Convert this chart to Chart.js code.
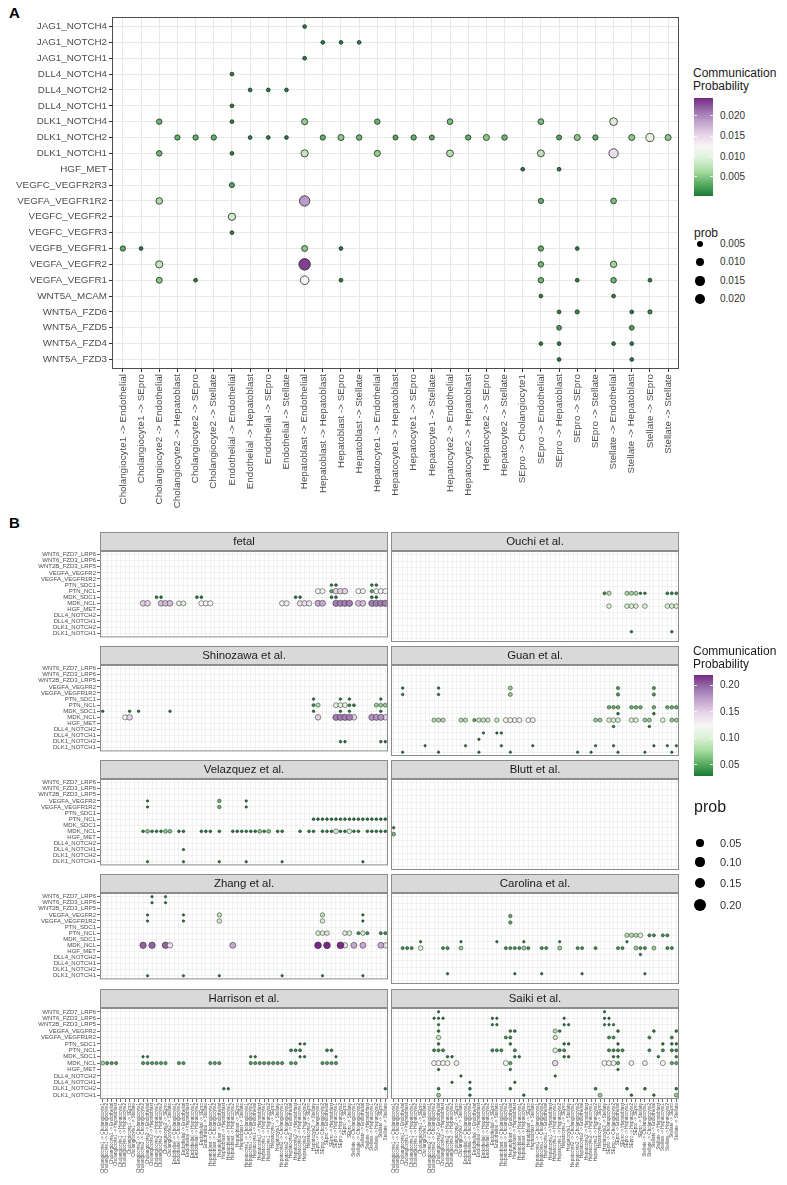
<!DOCTYPE html>
<html>
<head>
<meta charset="utf-8">
<script src="https://cdn.jsdelivr.net/npm/chart.js@4.4.1/dist/chart.umd.min.js"></script>
<style>
  body { margin: 0; background: #fff; font-family: "Liberation Sans", Arial, sans-serif; }
  #page { position: relative; width: 787px; height: 1185px; overflow: hidden; background: #fff; }
  canvas { position: absolute; }
  .t { position: absolute; white-space: nowrap; color: #1a1a1a; line-height: 1; }
  .tag { font-weight: bold; font-size: 15px; color: #000; }
  .bar { position: absolute; width: 19px; }
  .tick { position: absolute; width: 3px; height: 1px; background: rgba(255,255,255,0.8); }
  .key { position: absolute; border-radius: 50%; background: #000; }
</style>
</head>
<body>
<div id="page">
  <div class="t tag" style="left:9px;top:5px">A</div>
  <div class="t tag" style="left:9px;top:515px">B</div>
  <canvas id="chartA" width="690" height="525" style="left:0;top:0"></canvas>
</div>
<script>
// ---- panel A data ----
const cellsA = [
  'Cholangiocyte1 -> Endothelial', 'Cholangiocyte1 -> SEpro', 'Cholangiocyte2 -> Endothelial',
  'Cholangiocyte2 -> Hepatoblast', 'Cholangiocyte2 -> SEpro', 'Cholangiocyte2 -> Stellate',
  'Endothelial -> Endothelial', 'Endothelial -> Hepatoblast', 'Endothelial -> SEpro', 'Endothelial -> Stellate',
  'Hepatoblast -> Endothelial', 'Hepatoblast -> Hepatoblast', 'Hepatoblast -> SEpro', 'Hepatoblast -> Stellate',
  'Hepatocyte1 -> Endothelial', 'Hepatocyte1 -> Hepatoblast', 'Hepatocyte1 -> SEpro', 'Hepatocyte1 -> Stellate',
  'Hepatocyte2 -> Endothelial', 'Hepatocyte2 -> Hepatoblast', 'Hepatocyte2 -> SEpro', 'Hepatocyte2 -> Stellate',
  'SEpro -> Cholangiocyte1', 'SEpro -> Endothelial', 'SEpro -> Hepatoblast', 'SEpro -> SEpro', 'SEpro -> Stellate',
  'Stellate -> Endothelial', 'Stellate -> Hepatoblast', 'Stellate -> SEpro', 'Stellate -> Stellate'
];
const pairsA = [
  'JAG1_NOTCH4', 'JAG1_NOTCH2', 'JAG1_NOTCH1', 'DLL4_NOTCH4', 'DLL4_NOTCH2', 'DLL4_NOTCH1',
  'DLK1_NOTCH4', 'DLK1_NOTCH2', 'DLK1_NOTCH1', 'HGF_MET', 'VEGFC_VEGFR2R3', 'VEGFA_VEGFR1R2',
  'VEGFC_VEGFR2', 'VEGFC_VEGFR3', 'VEGFB_VEGFR1', 'VEGFA_VEGFR2', 'VEGFA_VEGFR1', 'WNT5A_MCAM',
  'WNT5A_FZD6', 'WNT5A_FZD5', 'WNT5A_FZD4', 'WNT5A_FZD3'
];
// [pair, column indexes, probability]
const dotsA = [
  ['JAG1_NOTCH4', [10], .0008],
  ['JAG1_NOTCH2', [11, 12, 13], .0008],
  ['JAG1_NOTCH1', [10], .0008],
  ['DLL4_NOTCH4', [6], .0008],
  ['DLL4_NOTCH2', [7, 8, 9], .0008],
  ['DLL4_NOTCH1', [6], .0008],
  ['DLK1_NOTCH4', [6], .0008], ['DLK1_NOTCH4', [2, 14], .0038], ['DLK1_NOTCH4', [18, 23], .0045],
  ['DLK1_NOTCH4', [10], .0055], ['DLK1_NOTCH4', [27], .0095],
  ['DLK1_NOTCH2', [7, 8, 9], .0008], ['DLK1_NOTCH2', [3, 4, 5, 11, 16, 19, 26], .0035],
  ['DLK1_NOTCH2', [15, 17, 24], .003], ['DLK1_NOTCH2', [13, 21], .004],
  ['DLK1_NOTCH2', [12, 20, 25, 28, 30], .0052], ['DLK1_NOTCH2', [29], .0105],
  ['DLK1_NOTCH1', [6], .0008], ['DLK1_NOTCH1', [2], .004], ['DLK1_NOTCH1', [14], .0055],
  ['DLK1_NOTCH1', [18], .007], ['DLK1_NOTCH1', [23], .0075], ['DLK1_NOTCH1', [10], .008],
  ['DLK1_NOTCH1', [27], .0145],
  ['HGF_MET', [22, 24], .0008],
  ['VEGFC_VEGFR2R3', [6], .003],
  ['VEGFA_VEGFR1R2', [23], .0035], ['VEGFA_VEGFR1R2', [27], .0045], ['VEGFA_VEGFR1R2', [2], .0065],
  ['VEGFA_VEGFR1R2', [10], .019],
  ['VEGFC_VEGFR2', [6], .0085],
  ['VEGFC_VEGFR3', [6], .0008],
  ['VEGFB_VEGFR1', [1, 12, 25], .0008], ['VEGFB_VEGFR1', [0, 23], .0035], ['VEGFB_VEGFR1', [10], .005],
  ['VEGFA_VEGFR2', [23], .004], ['VEGFA_VEGFR2', [27], .006], ['VEGFA_VEGFR2', [2], .008],
  ['VEGFA_VEGFR2', [10], .0235],
  ['VEGFA_VEGFR1', [4, 12, 25, 29], .0008], ['VEGFA_VEGFR1', [23, 27], .004],
  ['VEGFA_VEGFR1', [2], .005], ['VEGFA_VEGFR1', [10], .0125],
  ['WNT5A_MCAM', [23, 27], .0008],
  ['WNT5A_FZD6', [24, 28], .0008], ['WNT5A_FZD6', [25, 29], .0015],
  ['WNT5A_FZD5', [24, 28], .0025],
  ['WNT5A_FZD4', [23, 24, 27, 28], .0008],
  ['WNT5A_FZD3', [24, 28], .0008]
];
const colorTicksA = [0.005, 0.010, 0.015, 0.020];
const sizeTicksA = [0.005, 0.010, 0.015, 0.020];

// ---- panel B data ----
const cellTypes = ['Cholangiocyte1', 'Cholangiocyte2', 'Endothelial', 'Hepatoblast',
  'Hepatocyte1', 'Hepatocyte2', 'SEpro', 'Stellate'];
const cellsB = cellTypes.flatMap(s => cellTypes.map(t => s + ' -> ' + t));
const pairsB = [
  'WNT6_FZD7_LRP6', 'WNT6_FZD3_LRP6', 'WNT2B_FZD3_LRP5', 'VEGFA_VEGFR2', 'VEGFA_VEGFR1R2',
  'PTN_SDC1', 'PTN_NCL', 'MDK_SDC1', 'MDK_NCL', 'HGF_MET', 'DLL4_NOTCH2', 'DLL4_NOTCH1',
  'DLK1_NOTCH2', 'DLK1_NOTCH1'
];
const fetalDots = [
  ['PTN_SDC1', [51, 52, 60, 61], .03],
  ['PTN_NCL', [48, 49], .12], ['PTN_NCL', [51, 60], .05], ['PTN_NCL', [52, 53, 54], .15],
  ['PTN_NCL', [57, 58], .12], ['PTN_NCL', [61, 62, 63], .125],
  ['MDK_SDC1', [12, 13, 21, 22, 43, 44, 51, 52, 60, 61], .03],
  ['MDK_NCL', [9, 10], .15], ['MDK_NCL', [13, 14, 15], .16], ['MDK_NCL', [17, 18], .11],
  ['MDK_NCL', [22, 23, 24], .125], ['MDK_NCL', [40, 41], .13], ['MDK_NCL', [44, 45, 46], .14],
  ['MDK_NCL', [48, 49], .17], ['MDK_NCL', [52, 53, 54, 55], .19], ['MDK_NCL', [57, 58], .16],
  ['MDK_NCL', [60, 61, 62, 63], .19]
];
const ouchiDots = [
  ['PTN_NCL', [47], .04], ['PTN_NCL', [48], .08], ['PTN_NCL', [52, 53, 54], .075],
  ['PTN_NCL', [55, 56], .025], ['PTN_NCL', [61, 62, 63], .035],
  ['MDK_NCL', [48, 52, 53, 54, 56, 61, 62, 63], .1],
  ['DLK1_NOTCH2', [53, 62], .025]
];
const shinozawaDots = [
  ['PTN_SDC1', [47, 53, 55, 62], .025],
  ['PTN_NCL', [47], .04], ['PTN_NCL', [48], .08], ['PTN_NCL', [52, 53, 54], .11],
  ['PTN_NCL', [55, 56], .035], ['PTN_NCL', [61, 62, 63], .07],
  ['MDK_SDC1', [0, 6, 8, 15, 47, 53, 55, 62], .025],
  ['MDK_NCL', [5], .12], ['MDK_NCL', [6, 48, 56, 63], .15], ['MDK_NCL', [52, 53, 54, 55], .19],
  ['MDK_NCL', [60, 61, 62], .18],
  ['DLK1_NOTCH2', [53, 54, 62, 63], .025]
];
const guanDots = [
  ['VEGFA_VEGFR2', [2, 10], .025], ['VEGFA_VEGFR2', [26], .07], ['VEGFA_VEGFR2', [50, 58], .045],
  ['VEGFA_VEGFR1R2', [2, 10], .025], ['VEGFA_VEGFR1R2', [26], .07], ['VEGFA_VEGFR1R2', [50, 58], .045],
  ['PTN_NCL', [48, 49, 50, 53, 54, 55, 58, 61, 62, 63], .055],
  ['MDK_SDC1', [50, 58], .03],
  ['MDK_NCL', [9, 10, 11, 15, 16], .08], ['MDK_NCL', [18], .05], ['MDK_NCL', [19, 20, 21, 23], .09],
  ['MDK_NCL', [25, 26, 27, 28, 30, 31], .115], ['MDK_NCL', [45, 46, 56, 57, 62, 63], .07],
  ['MDK_NCL', [48, 49, 50, 53, 54, 60], .1],
  ['HGF_MET', [49, 57], .025],
  ['DLL4_NOTCH2', [20, 23, 24], .02],
  ['DLL4_NOTCH1', [19], .02],
  ['DLK1_NOTCH2', [7, 16, 24, 31, 45, 49, 58, 61, 63], .02],
  ['DLK1_NOTCH1', [2, 10, 19, 26, 41, 44, 50, 56, 62], .02]
];
const velazquezDots = [
  ['VEGFA_VEGFR2', [10, 32], .02], ['VEGFA_VEGFR2', [26], .055],
  ['VEGFA_VEGFR1R2', [10, 32], .02], ['VEGFA_VEGFR1R2', [26], .055],
  ['PTN_NCL', [47, 48, 49, 50, 51, 52, 53, 54, 55, 56, 57, 58, 59, 60, 61, 62, 63], .03],
  ['MDK_NCL', [9, 11, 12, 13, 17, 18, 22, 23, 24, 26, 29, 30, 31, 32, 33, 34, 36, 39, 40, 44,
    46, 47, 49, 50, 51, 53, 54, 56, 57, 59, 60, 61, 62, 63], .03],
  ['MDK_NCL', [10, 14, 15, 35, 37], .065], ['MDK_NCL', [52, 55], .1],
  ['DLL4_NOTCH1', [18], .02],
  ['DLK1_NOTCH1', [10, 18, 26, 32, 40, 58], .02]
];
const bluttDots = [
  ['MDK_SDC1', [0], .025], ['MDK_NCL', [0], .06]
];
const zhangDots = [
  ['WNT6_FZD7_LRP6', [11, 14], .02], ['WNT6_FZD3_LRP6', [11, 14], .02],
  ['VEGFA_VEGFR2', [10, 18, 58], .02], ['VEGFA_VEGFR2', [26, 49], .085],
  ['VEGFA_VEGFR1R2', [10, 18, 58], .02], ['VEGFA_VEGFR1R2', [26, 49], .095],
  ['PTN_NCL', [48, 49, 50, 54, 55, 58], .1], ['PTN_NCL', [57, 59, 62, 63], .04],
  ['MDK_NCL', [9, 11, 14], .2], ['MDK_NCL', [15, 54, 63], .14], ['MDK_NCL', [29, 56, 58, 62], .17],
  ['MDK_NCL', [48, 50, 53], .22],
  ['DLK1_NOTCH1', [10, 18, 26, 40, 49, 58], .02]
];
const carolinaDots = [
  ['VEGFA_VEGFR2', [26], .05], ['VEGFA_VEGFR1R2', [26], .05],
  ['PTN_NCL', [52, 53, 54], .08], ['PTN_NCL', [55], .1], ['PTN_NCL', [57, 58, 60, 61], .04],
  ['MDK_SDC1', [6, 15, 23, 29, 37, 52], .02],
  ['MDK_NCL', [2, 3, 4, 11, 12, 25, 26, 27, 28, 30, 33, 34, 41, 42, 45, 50, 51, 55, 56, 61, 62], .04],
  ['MDK_NCL', [6], .1], ['MDK_NCL', [15, 29, 37, 54, 58], .07],
  ['HGF_MET', [55], .02],
  ['DLK1_NOTCH2', [12, 27, 33, 42, 56], .02]
];
const harrisonDots = [
  ['PTN_SDC1', [44, 45], .02],
  ['PTN_NCL', [42, 43, 44, 50, 51], .035],
  ['MDK_SDC1', [9, 10, 33, 34, 44, 45, 52], .02],
  ['MDK_NCL', [0], .075],
  ['MDK_NCL', [1, 2, 3, 9, 10, 11, 12, 13, 14, 17, 18, 24, 25, 26, 33, 34, 35, 36, 37, 38, 39, 40,
    42, 43, 49, 50, 51, 52], .045],
  ['DLK1_NOTCH2', [27, 28, 63], .025]
];
const saikiDots = [
  ['WNT6_FZD7_LRP6', [10, 47], .02],
  ['WNT6_FZD3_LRP6', [9, 10, 11, 22, 23, 38, 47, 48], .02],
  ['WNT2B_FZD3_LRP5', [10, 22, 23, 38, 39, 47, 48, 49], .02],
  ['VEGFA_VEGFR2', [10, 26, 27, 37, 50, 58, 63], .03], ['VEGFA_VEGFR2', [36], .08],
  ['VEGFA_VEGFR1R2', [10, 36], .09], ['VEGFA_VEGFR1R2', [25, 26, 48, 49, 57, 62], .04],
  ['PTN_SDC1', [10, 26, 38, 39, 50, 60, 62, 63], .025],
  ['PTN_NCL', [9, 10, 11, 22, 23, 24, 27, 37, 38, 48, 49, 50, 51, 57, 60, 62, 63], .04],
  ['PTN_NCL', [36], .1],
  ['MDK_SDC1', [12, 13, 27, 28, 38, 39, 49, 50, 59, 63], .025],
  ['MDK_NCL', [9, 10, 11, 12, 25, 47, 48, 49, 60], .12], ['MDK_NCL', [14, 53, 56], .11],
  ['MDK_NCL', [26, 50, 62, 63], .05], ['MDK_NCL', [36], .15],
  ['HGF_MET', [10, 26, 50], .02],
  ['DLL4_NOTCH2', [15, 36], .02],
  ['DLL4_NOTCH1', [13, 17, 27], .02],
  ['DLK1_NOTCH2', [10, 17, 26, 34, 45, 52, 56, 63], .03],
  ['DLK1_NOTCH1', [10, 46, 63], .07], ['DLK1_NOTCH1', [17, 29, 53, 58], .025]
];
const facetsB = [
  ['fetal', fetalDots], ['Ouchi et al.', ouchiDots],
  ['Shinozawa et al.', shinozawaDots], ['Guan et al.', guanDots],
  ['Velazquez et al.', velazquezDots], ['Blutt et al.', bluttDots],
  ['Zhang et al.', zhangDots], ['Carolina et al.', carolinaDots],
  ['Harrison et al.', harrisonDots], ['Saiki et al.', saikiDots]
];
const colorTicksB = [0.05, 0.10, 0.15, 0.20];
const sizeTicksB = [0.05, 0.10, 0.15, 0.20];

// ---- colour + size scales ----
const PRGN = ['#1b7837', '#5aae61', '#a6dba0', '#d9f0d3', '#f7f7f7', '#e7d4e8', '#c2a5cf', '#9970ab', '#762a83'];
const rangeA = [0.0003, 0.0244];
const rangeB = [0.029, 0.219];

function hexRgb(h) {
  return [1, 3, 5].map(i => parseInt(h.substr(i, 2), 16));
}
function prgn(t) {
  t = Math.max(0, Math.min(1, t)) * 8;
  const i = Math.min(7, Math.floor(t));
  const f = t - i;
  const a = hexRgb(PRGN[i]), b = hexRgb(PRGN[i + 1]);
  const c = a.map((v, k) => Math.round(v + (b[k] - v) * f));
  return 'rgb(' + c.join(',') + ')';
}
const colorA = p => prgn((p - rangeA[0]) / (rangeA[1] - rangeA[0]));
const colorB = p => prgn((p - rangeB[0]) / (rangeB[1] - rangeB[0]));
const radiusA = p => Math.sqrt(2.5 + 1300 * p);
const radiusB = p => Math.sqrt(0.5 + 50 * p);
const legendRadiusB = p => Math.sqrt(6 + 150 * p);

function expand(groups, xLabels, yLabels, rFn) {
  return groups.flatMap(([pair, cols, p]) =>
    cols.map(c => ({ x: c, y: yLabels.indexOf(pair), r: rFn(p), p: p })));
}

// borda do painel e faixa do facet
const frame = {
  id: 'frame',
  afterDraw(chart, args, opts) {
    const ctx = chart.ctx;
    const a = chart.chartArea;
    ctx.save();
    if (opts.strip) {
      ctx.fillStyle = '#d9d9d9';
      ctx.fillRect(a.left, a.top - 19, a.right - a.left, 19);
      ctx.strokeStyle = opts.color;
      ctx.lineWidth = 1;
      ctx.strokeRect(a.left + 0.5, a.top - 18.5, a.right - a.left - 1, 18);
      ctx.fillStyle = '#1a1a1a';
      ctx.font = '11.4px "Liberation Sans", Arial, sans-serif';
      ctx.textAlign = 'center';
      ctx.textBaseline = 'middle';
      ctx.fillText(opts.strip, (a.left + a.right) / 2, a.top - 9);
    }
    ctx.strokeStyle = opts.color;
    ctx.lineWidth = 1;
    ctx.strokeRect(a.left + 0.5, a.top + 0.5, a.right - a.left - 1, a.bottom - a.top - 1);
    ctx.restore();
  }
};

function bubbleChart(canvas, o) {
  return new Chart(canvas, {
    type: 'bubble',
    data: {
      datasets: [{
        data: o.points,
        backgroundColor: c => o.color(c.raw.p),
        borderColor: '#262626',
        borderWidth: o.borderWidth
      }]
    },
    options: {
      responsive: false,
      animation: false,
      events: [],
      layout: { autoPadding: false, padding: o.padding },
      plugins: {
        legend: { display: false },
        tooltip: { enabled: false },
        frame: { strip: o.strip, color: o.frameColor }
      },
      scales: {
        x: {
          type: 'linear',
          min: -0.6,
          max: o.xLabels.length - 0.4,
          afterBuildTicks: s => { s.ticks = o.xLabels.map((_, i) => ({ value: i })); },
          afterFit: s => { s.height = o.xHeight; },
          border: { display: false },
          grid: { color: o.gridColor, lineWidth: o.gridWidth, drawTicks: o.showX, tickLength: 3, tickColor: '#333' },
          ticks: {
            display: o.showX, autoSkip: false, minRotation: 90, maxRotation: 90, padding: o.tickPad,
            color: '#4d4d4d', font: { size: o.xFont, family: '"Liberation Sans", Arial, sans-serif' },
            callback: v => o.xLabels[v]
          }
        },
        y: {
          type: 'linear',
          reverse: true,
          min: -0.6,
          max: o.yLabels.length - 0.4,
          afterBuildTicks: s => { s.ticks = o.yLabels.map((_, i) => ({ value: i })); },
          afterFit: s => { s.width = o.yWidth; },
          border: { display: false },
          grid: { color: o.gridColor, lineWidth: o.gridWidth, drawTicks: o.showY, tickLength: 3, tickColor: '#333' },
          ticks: {
            display: o.showY, autoSkip: false, padding: o.tickPad,
            color: '#4d4d4d', font: { size: o.yFont, family: '"Liberation Sans", Arial, sans-serif' },
            callback: v => o.yLabels[v]
          }
        }
      }
    },
    plugins: [frame]
  });
}

// ---- panel A ----
bubbleChart(document.getElementById('chartA'), {
  points: expand(dotsA, cellsA, pairsA, radiusA),
  color: colorA,
  borderWidth: 0.8,
  xLabels: cellsA, yLabels: pairsA,
  padding: { top: 17, right: 11, left: 0, bottom: 0 },
  xHeight: 156, yWidth: 112,
  showX: true, showY: true, xFont: 9.8, yFont: 9.8, tickPad: 2,
  gridColor: '#e8e8e8', gridWidth: 1, frameColor: '#4d4d4d'
});

// ---- panel B ----
const page = document.getElementById('page');
const stripTops = [532, 646, 760, 874, 989];
facetsB.forEach(([name, dots], k) => {
  const row = Math.floor(k / 2), col = k % 2;
  const bottomRow = row === 4;
  const cv = document.createElement('canvas');
  const w = col === 0 ? 400 : 305;
  const h = bottomRow ? 1185 - stripTops[row] : 110;
  cv.width = w; cv.height = h;
  cv.style.left = (col === 0 ? 0 : 388) + 'px';
  cv.style.top = stripTops[row] + 'px';
  page.appendChild(cv);
  bubbleChart(cv, {
    points: expand(dots, cellsB, pairsB, radiusB),
    color: colorB,
    borderWidth: 0.5,
    xLabels: cellsB, yLabels: pairsB,
    padding: { top: 19, right: col === 0 ? 12 : 14, left: 0, bottom: 0 },
    xHeight: h - 110, yWidth: col === 0 ? 100 : 3,
    showX: bottomRow, showY: col === 0, xFont: 4.6, yFont: 6, tickPad: 1,
    gridColor: '#ececec', gridWidth: 0.7, frameColor: '#8c8c8c',
    strip: name
  });
});

// ---- legends (html) ----
function addText(txt, left, top, size, color, extra) {
  const d = document.createElement('div');
  d.className = 't';
  d.textContent = txt;
  d.style.left = left + 'px';
  d.style.top = top + 'px';
  d.style.fontSize = size + 'px';
  if (color) d.style.color = color;
  if (extra) Object.assign(d.style, extra);
  page.appendChild(d);
  return d;
}
function colorLegend(o) {
  addText('Communication', 693, o.titleTop, 12);
  addText('Probability', 693, o.titleTop + 13, 12);
  const bar = document.createElement('div');
  bar.className = 'bar';
  bar.style.left = '694px';
  bar.style.top = o.barTop + 'px';
  bar.style.height = (o.barBottom - o.barTop) + 'px';
  bar.style.background = 'linear-gradient(to top, ' + PRGN.join(', ') + ')';
  page.appendChild(bar);
  o.ticks.forEach(v => {
    const y = o.barBottom - (v - o.range[0]) / (o.range[1] - o.range[0]) * (o.barBottom - o.barTop);
    [694, 710].forEach(x => {
      const t = document.createElement('div');
      t.className = 'tick';
      t.style.left = x + 'px';
      t.style.top = (y - 0.5) + 'px';
      page.appendChild(t);
    });
    addText(v.toFixed(o.digits), 720, y - 5, 10, '#333');
  });
}
function sizeLegend(o) {
  addText('prob', 694, o.titleTop, o.titleSize);
  o.ticks.forEach((v, i) => {
    const r = o.radius(v);
    const y = o.keyY[i];
    const k = document.createElement('div');
    k.className = 'key';
    k.style.left = (700 - r) + 'px';
    k.style.top = (y - r) + 'px';
    k.style.width = (2 * r) + 'px';
    k.style.height = (2 * r) + 'px';
    page.appendChild(k);
    addText(v.toFixed(o.digits), 720, y - o.labelSize / 2, o.labelSize, '#333');
  });
}
colorLegend({ titleTop: 67, barTop: 98, barBottom: 196, range: rangeA, ticks: colorTicksA, digits: 3 });
sizeLegend({ titleTop: 227, titleSize: 12, ticks: sizeTicksA, radius: radiusA,
  keyY: [244, 262, 281, 299], digits: 3, labelSize: 10 });
colorLegend({ titleTop: 645, barTop: 675, barBottom: 776, range: rangeB, ticks: colorTicksB, digits: 2 });
sizeLegend({ titleTop: 799, titleSize: 16, ticks: sizeTicksB, radius: legendRadiusB,
  keyY: [843, 862, 883, 905], digits: 2, labelSize: 11 });
</script>
</body>
</html>
